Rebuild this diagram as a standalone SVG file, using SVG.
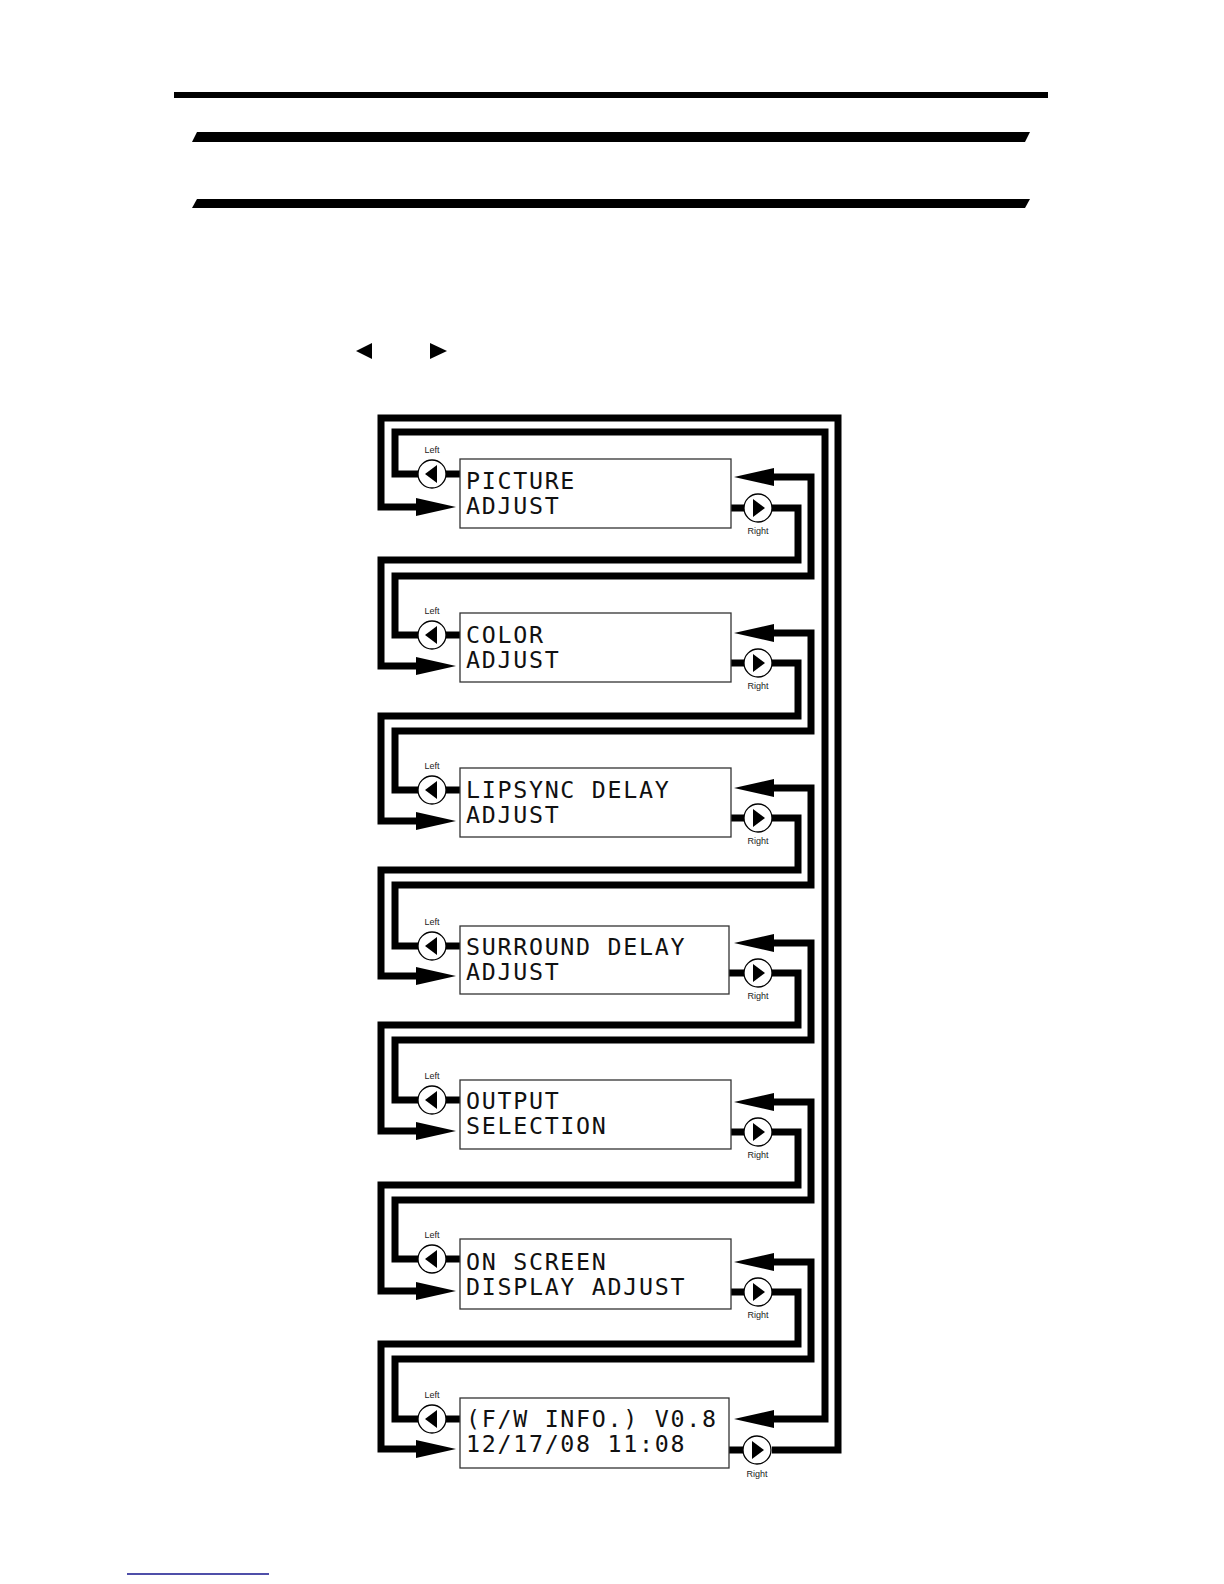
<svg xmlns="http://www.w3.org/2000/svg" width="1224" height="1584" viewBox="0 0 1224 1584">
<style>
.bg{fill:#ffffff}
.bar{fill:#000000}
.conn{fill:none;stroke:#000000;stroke-width:7;stroke-linejoin:miter;stroke-linecap:butt}
.stub{fill:none;stroke:#000000;stroke-width:7}
.box{fill:#ffffff;stroke:#333333;stroke-width:1.3}
.lcd{font-family:"DejaVu Sans Mono","Liberation Mono",monospace;font-size:23.3px;letter-spacing:1.7px;fill:#111111}
.btn{fill:#ffffff;stroke:#000000;stroke-width:1.3}
.tri{fill:#000000}
.lbl{font-family:"Liberation Sans",Arial,sans-serif;font-size:9px;fill:#222222;text-anchor:middle}
</style>
<defs>
<marker id="ah" markerUnits="userSpaceOnUse" markerWidth="40" markerHeight="18" viewBox="0 0 40 18" refX="4" refY="9" orient="auto">
<path d="M0,0 L40,9 L0,18 z" fill="#000000"/>
</marker>
</defs>
<rect class="bg" x="0" y="0" width="1224" height="1584"/>

<g id="header">
<rect class="bar" x="174" y="92" width="874" height="6"/>
<polygon class="bar" points="197,132 1030,132 1025,142 192,142"/>
<polygon class="bar" points="197,199 1030,199 1025,208 192,208"/>
<polygon class="tri" points="356,351 372,343 372,359"/>
<polygon class="tri" points="447,351 430,343 430,359"/>
</g>

<g id="connectors">
<path class="conn" marker-end="url(#ah)" d="M772,1450 H838 V418 H381 V507 H420"/>
<path class="conn" marker-end="url(#ah)" d="M418,474 H395 V432 H825 V1419 H770"/>
<path class="conn" marker-end="url(#ah)" d="M772,508 H798 V560 H381 V666 H420"/>
<path class="conn" marker-end="url(#ah)" d="M772,663 H798 V716 H381 V821 H420"/>
<path class="conn" marker-end="url(#ah)" d="M772,818 H798 V870 H381 V976 H420"/>
<path class="conn" marker-end="url(#ah)" d="M772,973 H798 V1025 H381 V1131 H420"/>
<path class="conn" marker-end="url(#ah)" d="M772,1132 H798 V1185 H381 V1291 H420"/>
<path class="conn" marker-end="url(#ah)" d="M772,1292 H798 V1344 H381 V1449 H420"/>
<path class="conn" marker-end="url(#ah)" d="M418,635 H395 V576 H811 V477 H770"/>
<path class="conn" marker-end="url(#ah)" d="M418,790 H395 V731 H811 V633 H770"/>
<path class="conn" marker-end="url(#ah)" d="M418,946 H395 V885 H811 V788 H770"/>
<path class="conn" marker-end="url(#ah)" d="M418,1100 H395 V1040 H811 V943 H770"/>
<path class="conn" marker-end="url(#ah)" d="M418,1259 H395 V1200 H811 V1102 H770"/>
<path class="conn" marker-end="url(#ah)" d="M418,1419 H395 V1359 H811 V1262 H770"/>
</g>

<g id="node-picture">
<path class="stub" d="M446,474 H461 M730,508 H744"/>
<rect class="box" x="460" y="459" width="271" height="69"/>
<text class="lcd" x="466" y="489">PICTURE<tspan x="466" dy="24.5">ADJUST</tspan></text>
<circle class="btn" cx="432" cy="474" r="14"/>
<polygon class="tri" points="425,474 437,465 437,483"/>
<text class="lbl" x="432" y="453">Left</text>
<circle class="btn" cx="758" cy="508" r="14"/>
<polygon class="tri" points="765,508 753,499 753,517"/>
<text class="lbl" x="758" y="534">Right</text>
</g>

<g id="node-color">
<path class="stub" d="M446,635 H461 M730,663 H744"/>
<rect class="box" x="460" y="613" width="271" height="69"/>
<text class="lcd" x="466" y="643">COLOR<tspan x="466" dy="24.5">ADJUST</tspan></text>
<circle class="btn" cx="432" cy="635" r="14"/>
<polygon class="tri" points="425,635 437,626 437,644"/>
<text class="lbl" x="432" y="614">Left</text>
<circle class="btn" cx="758" cy="663" r="14"/>
<polygon class="tri" points="765,663 753,654 753,672"/>
<text class="lbl" x="758" y="689">Right</text>
</g>

<g id="node-lipsync">
<path class="stub" d="M446,790 H461 M730,818 H744"/>
<rect class="box" x="460" y="768" width="271" height="69"/>
<text class="lcd" x="466" y="798">LIPSYNC DELAY<tspan x="466" dy="24.5">ADJUST</tspan></text>
<circle class="btn" cx="432" cy="790" r="14"/>
<polygon class="tri" points="425,790 437,781 437,799"/>
<text class="lbl" x="432" y="769">Left</text>
<circle class="btn" cx="758" cy="818" r="14"/>
<polygon class="tri" points="765,818 753,809 753,827"/>
<text class="lbl" x="758" y="844">Right</text>
</g>

<g id="node-surround">
<path class="stub" d="M446,946 H461 M729,973 H744"/>
<rect class="box" x="460" y="926" width="269" height="68"/>
<text class="lcd" x="466" y="955">SURROUND DELAY<tspan x="466" dy="24.5">ADJUST</tspan></text>
<circle class="btn" cx="432" cy="946" r="14"/>
<polygon class="tri" points="425,946 437,937 437,955"/>
<text class="lbl" x="432" y="925">Left</text>
<circle class="btn" cx="758" cy="973" r="14"/>
<polygon class="tri" points="765,973 753,964 753,982"/>
<text class="lbl" x="758" y="999">Right</text>
</g>

<g id="node-output">
<path class="stub" d="M446,1100 H461 M730,1132 H744"/>
<rect class="box" x="460" y="1080" width="271" height="69"/>
<text class="lcd" x="466" y="1109">OUTPUT<tspan x="466" dy="24.5">SELECTION</tspan></text>
<circle class="btn" cx="432" cy="1100" r="14"/>
<polygon class="tri" points="425,1100 437,1091 437,1109"/>
<text class="lbl" x="432" y="1079">Left</text>
<circle class="btn" cx="758" cy="1132" r="14"/>
<polygon class="tri" points="765,1132 753,1123 753,1141"/>
<text class="lbl" x="758" y="1158">Right</text>
</g>

<g id="node-osd">
<path class="stub" d="M446,1259 H461 M730,1292 H744"/>
<rect class="box" x="460" y="1239" width="271" height="70"/>
<text class="lcd" x="466" y="1270">ON SCREEN<tspan x="466" dy="25">DISPLAY ADJUST</tspan></text>
<circle class="btn" cx="432" cy="1259" r="14"/>
<polygon class="tri" points="425,1259 437,1250 437,1268"/>
<text class="lbl" x="432" y="1238">Left</text>
<circle class="btn" cx="758" cy="1292" r="14"/>
<polygon class="tri" points="765,1292 753,1283 753,1301"/>
<text class="lbl" x="758" y="1318">Right</text>
</g>

<g id="node-fwinfo">
<path class="stub" d="M446,1419 H461 M728,1450 H744"/>
<rect class="box" x="460" y="1398" width="269" height="70"/>
<text class="lcd" x="466" y="1427">(F/W INFO.) V0.8<tspan x="466" dy="25">12/17/08 11:08</tspan></text>
<circle class="btn" cx="432" cy="1419" r="14"/>
<polygon class="tri" points="425,1419 437,1410 437,1428"/>
<text class="lbl" x="432" y="1398">Left</text>
<circle class="btn" cx="757" cy="1450" r="14"/>
<polygon class="tri" points="764,1450 752,1441 752,1459"/>
<text class="lbl" x="757" y="1477">Right</text>
</g>

<g id="footer">
<line x1="127" y1="1574" x2="269" y2="1574" stroke="#14148c" stroke-width="1.3"/>
</g>
</svg>
